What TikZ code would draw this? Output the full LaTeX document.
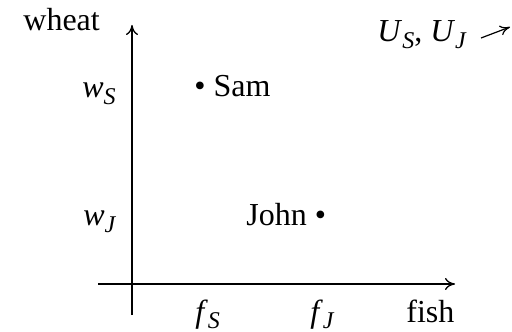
\documentclass[tikz,border=0pt]{standalone}
\usepackage{fontspec}
\setmainfont{Liberation Serif}
\usetikzlibrary{arrows.meta}
\newcommand{\itsub}[2]{\textit{#1}\raisebox{-3.3pt}{\fontsize{12}{14}\selectfont\textit{#2}}}

\begin{document}
\begin{tikzpicture}[
  x=0.5pt, y=0.5pt,
  axis/.style={line width=0.65pt, -{To[length=5pt,width=6pt]}},
  hint/.style={line width=0.6pt, -{To[length=5pt,width=5pt]}},
  lbl/.style={font=\fontsize{16}{19}\selectfont, inner sep=0pt,
              anchor=base west}]
  \useasboundingbox (0,0) rectangle (512,331);
  % axes
  \coordinate (ybot) at (132,16);
  \coordinate (ytop) at (132,306);
  \coordinate (xleft) at (98,47);
  \coordinate (xright) at (455,47);
  \draw[axis] (ybot) -- (ytop);
  \draw[axis] (xleft) -- (xright);
  % axis names
  \node[lbl] (wheat) at (23,300) {wheat};
  \node[lbl] (fish) at (406,9) {fish};
  % tick labels
  \node[lbl] (wS) at (82,233) {\itsub{w}{S}};
  \node[lbl] (wJ) at (83,105) {\itsub{w}{J}};
  \node[lbl] (fS) at (195,9) {\itsub{f}{S}};
  \node[lbl] (fJ) at (310,9) {\itsub{f}{J}};
  % endowments
  \node[lbl] (sam) at (194,234) {\textbullet\ Sam};
  \node[lbl] (john) at (246,105) {John \textbullet};
  % utility direction
  \node[lbl] (util) at (377,289) {\itsub{U}{S}, \itsub{U}{J}};
  \coordinate (ustart) at (481,293);
  \coordinate (utip) at (510,304);
  \draw[hint] (ustart) -- (utip);
\end{tikzpicture}
\end{document}
